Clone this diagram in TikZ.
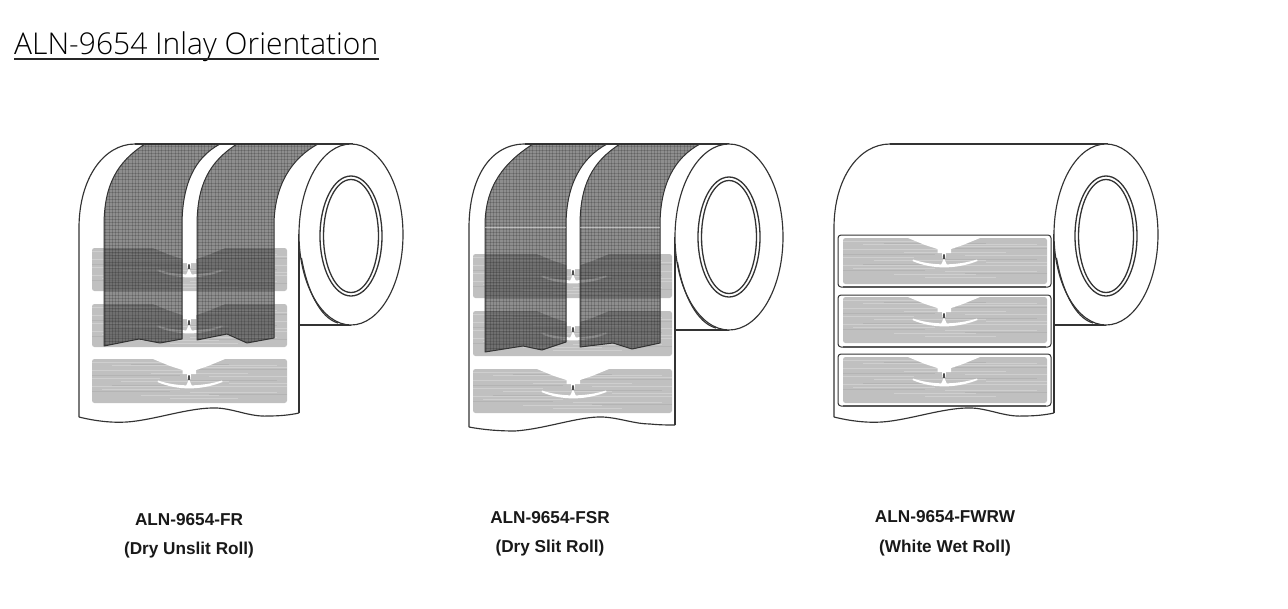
\documentclass[tikz,border=0pt]{standalone}
\usepackage{fontspec}
\setmainfont{Liberation Sans}
\newfontfamily\titlefont{Open Sans Light}
\usetikzlibrary{calc}
\definecolor{ink}{HTML}{333333}
\definecolor{labelgrey}{HTML}{C0C0C0}
\definecolor{streak}{HTML}{CFCFCF}
\definecolor{streakdark}{HTML}{B4B4B4}
\tikzset{
  rollline/.style={draw=ink,line width=1.15pt,line join=round},
  ringline/.style={draw=ink,line width=1.3pt},
  topline/.style={draw=ink,line width=2pt},
  capname/.style={font=\bfseries\fontsize{17.2}{18}\selectfont,text=black!90,inner sep=0pt,anchor=center},
  tiny/.style={font=\bfseries\fontsize{3.6}{4}\selectfont,text=white,inner sep=0pt},
}
% inlay: #1 centre x of notch, #2 left, #3 right, #4 top, #5 bottom
\newcommand{\inlay}[5]{%
  \begin{scope}
    \fill[labelgrey,rounded corners=2.5pt] (#2,#4) rectangle (#3,#5);
    \clip[rounded corners=2.5pt] (#2,#4) rectangle (#3,#5);
    \foreach \yy/\aa/\bb in {3/0/.6,6/.1/.95,8/.45/1,11/0/.5,14/.3/.8,17/.6/1,19/0/.35,22/.15/.7,24/.7/1,27/0/1,30/.05/.45,33/.5/.95,36/.25/.65,39/.4/.75}{
      \draw[streak,line width=.9pt] ($(#2,#4)!\aa!(#3,#4)+(0,\yy)$) -- ($(#2,#4)!\bb!(#3,#4)+(0,\yy)$);
    }
    \foreach \yy/\aa/\bb in {5/.2/.7,10/.55/1,16/0/.45,21/.5/.95,26/.1/.55,32/0/.4,35/.6/1}{
      \draw[streakdark,line width=.7pt] ($(#2,#4)!\aa!(#3,#4)+(0,\yy)$) -- ($(#2,#4)!\bb!(#3,#4)+(0,\yy)$);
    }
    \begin{scope}[shift={(#1,#4)}]
      \fill[white] (-36,-1) -- (-36,0) -- (-19,7) -- (-6.5,11) -- (-6.5,15) -- (-2,15) -- (-1.6,20) -- (1.6,20) -- (2,15) -- (7,15) -- (7,11) -- (19,7) -- (36,0) -- (36,-1) -- cycle;
      \fill[white] (-31,21.5) .. controls (-12,28) and (12,28) .. (33,21.5) -- (33.5,23) .. controls (12,31.5) and (-12,31.5) .. (-31.5,23) -- cycle;
      \fill[white] (0,20.5) -- (-3.5,28) -- (3.5,28) -- cycle;
      \fill[black!70] (-1.2,15.5) rectangle (1.2,20.5);
      \fill[white] (-1.2,15) -- (1.2,15) -- (0,17) -- cycle;
      \node[tiny,text=white] at (-16,3.5) {AIXX};
      \node[tiny,text=white] at (18,3.5) {RFUA};
    \end{scope}
  \end{scope}
}
\newcommand{\strip}[5]{%
  \begin{scope}
    \path[clip] (#1,226) .. controls (#1,185) and ($(#3,144)+(-28,18)$) .. (#3,144) -- (#4,144) .. controls ($(#4,144)+(-26,14)$) and (#2,185) .. (#2,226) -- #5 -- cycle;
    \fill[black!88,opacity=.5] (#1-5,140) rectangle (#2+45,360);
    \foreach \gx in {0,...,80} {\draw[black,opacity=.16,line width=.8pt] ($(#1-5,140)+(\gx*3.3,0)$) -- ++(0,225);}
    \foreach \gy in {0,...,68} {\draw[black,opacity=.16,line width=.8pt] ($(#1-5,140)+(0,\gy*3.3)$) -- ++(180,0);}
  \end{scope}
  \draw[draw=ink,line width=1pt,line join=round] (#1,226) .. controls (#1,185) and ($(#3,144)+(-28,18)$) .. (#3,144) -- (#4,144) .. controls ($(#4,144)+(-26,14)$) and (#2,185) .. (#2,226) -- #5 -- cycle;
}
\begin{document}
\begin{tikzpicture}[x=1pt,y=-1pt]
\useasboundingbox (0,0) rectangle (1288,608);
\fill[white] (0,0) rectangle (1288,608);

% title
\node[anchor=base west,inner sep=0pt,text=black] (title) at (14,54) {\titlefont\fontsize{30}{32}\selectfont ALN-9654 Inlay Orientation};
\draw[black!85,line width=1.5pt] (14,59) -- (378.5,59);

% ---- roll 1
\draw[rollline] (79,417) -- (79,228) .. controls (79,178) and (104,144) .. (135,144);
\draw[topline] (135,144) -- (353,144);
\draw[rollline] (79,417) .. controls (95,421) and (112,423) .. (127,422) .. controls (155,420) and (190,407) .. (217,408) .. controls (235,409) and (250,417) .. (268,416) .. controls (280,416) and (290,415) .. (299,413);
\draw[rollline] (299,234) -- (299,413);
\draw[rollline] (299,325) -- (351,325);
\fill[white,draw=ink,line width=1.15pt] (351,234.5) ellipse [x radius=52,y radius=90.5];
\draw[rollline] (301.5,258) .. controls (307,290) and (320,318) .. (338,323);
\draw[ringline] (351,236) ellipse [x radius=31,y radius=60];
\draw[ringline] (351,236) ellipse [x radius=27.5,y radius=56.5];
\inlay{189}{92}{287}{248}{291}
\inlay{189}{92}{287}{304}{347}
\inlay{189}{92}{287}{359}{403}
\strip{104}{182}{145}{220}{(182,339) -- (160,343) -- (139,339) -- (104,346)}
\strip{197}{274}{237}{318}{(274,338) -- (247,343) -- (227,334) -- (197,340)}

% ---- roll 2
\draw[rollline] (469,427) -- (469,228) .. controls (469,178) and (490,144) .. (525,144);
\draw[topline] (525,144) -- (729,144);
\draw[rollline] (469,427) .. controls (485,430) and (500,431) .. (515,431) .. controls (545,429) and (580,416) .. (603,417) .. controls (620,418) and (635,424) .. (650,424) .. controls (660,425) and (668,425) .. (675,425);
\draw[rollline] (675,237) -- (675,425);
\draw[rollline] (675,330) -- (729,330);
\fill[white,draw=ink,line width=1.15pt] (729,237) ellipse [x radius=54,y radius=93];
\draw[rollline] (677.5,262) .. controls (683,295) and (697,323) .. (716,328);
\draw[ringline] (729,237) ellipse [x radius=31,y radius=60];
\draw[ringline] (729,237) ellipse [x radius=27.5,y radius=56.5];
\inlay{573}{473}{672}{254}{298}
\inlay{573}{473}{672}{311}{356}
\inlay{573}{473}{672}{369}{413}
\strip{485}{566}{533}{607}{(566,342) -- (542,350) -- (523,346) -- (485,352)}
\strip{580}{660}{620}{700}{(660,343) -- (632,349) -- (613,343) -- (580,347)}
\draw[white,opacity=.45,line width=.8pt] (485,227) -- (566,227) (580,227) -- (660,227);

% ---- roll 3
\draw[rollline] (834,417) -- (834,228) .. controls (834,178) and (859,144) .. (890,144);
\draw[topline] (890,144) -- (1108,144);
\draw[rollline] (834,417) .. controls (850,421) and (867,423) .. (882,422) .. controls (910,420) and (945,407) .. (972,408) .. controls (990,409) and (1005,417) .. (1023,416) .. controls (1035,416) and (1045,415) .. (1054,413);
\draw[rollline] (1054,234) -- (1054,413);
\draw[rollline] (1054,325) -- (1106,325);
\fill[white,draw=ink,line width=1.15pt] (1106,234.5) ellipse [x radius=52,y radius=90.5];
\draw[rollline] (1056.5,258) .. controls (1062,290) and (1075,318) .. (1093,323);
\draw[ringline] (1106,236) ellipse [x radius=31,y radius=60];
\draw[ringline] (1106,236) ellipse [x radius=27.5,y radius=56.5];
\foreach \ot/\ob in {235/287,295/347,354/406}{
  \draw[draw=ink,line width=1pt,rounded corners=3pt] (838,\ot) rectangle (1051,\ob);
  \draw[black!65,line width=1.5pt] (843,\ob) -- (1046,\ob);
}
\inlay{944}{843}{1047}{238}{284}
\inlay{944}{843}{1047}{297}{343}
\inlay{944}{843}{1047}{357}{403}

% captions
\node[capname] (c1a) at (189,520) {ALN-9654-FR};
\node[capname] (c1b) at (189,550) {(Dry Unslit Roll)};
\node[capname] (c2a) at (550,518) {ALN-9654-FSR};
\node[capname] (c2b) at (550,548) {(Dry Slit Roll)};
\node[capname] (c3a) at (945,517) {ALN-9654-FWRW};
\node[capname] (c3b) at (945,548) {(White Wet Roll)};
\end{tikzpicture}
\end{document}
